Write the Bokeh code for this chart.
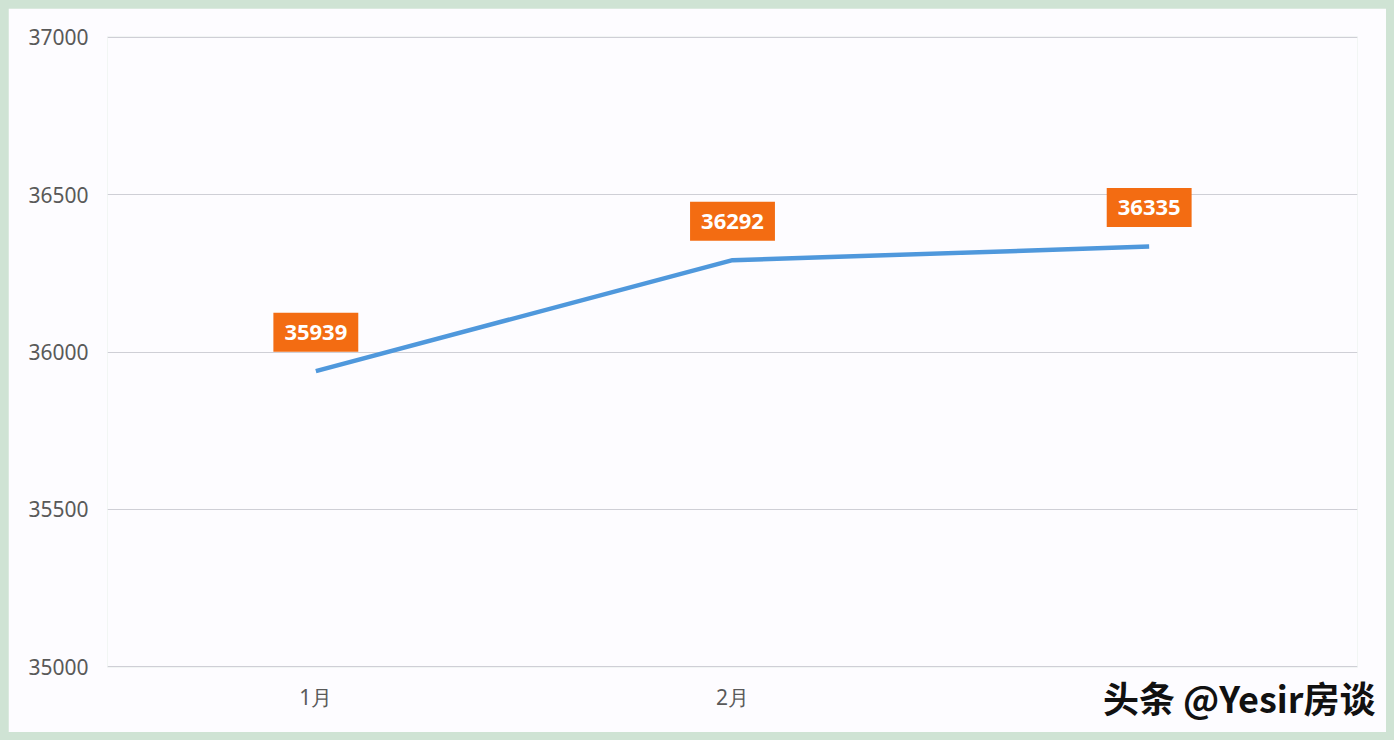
from bokeh.plotting import figure
from bokeh.models import ColumnDataSource, Title, Range1d, FixedTicker
from bokeh.core.properties import value
from bokeh.embed import file_html
from bokeh.resources import INLINE

months = ["1月", "2月", "3月"]
values = [35939, 36292, 36335]
value_labels = ["35939", "36292", "36335"]
y_ticks = [35000, 35500, 36000, 36500, 37000]
watermark = "头条 @Yesir房谈"

src = ColumnDataSource(dict(x=months, y=values, t=value_labels))

p = figure(x_range=months, y_range=Range1d(34997, 37003),
           width=1378, height=724, output_backend="svg", toolbar_location=None,
           min_border_left=99, min_border_right=29, min_border_top=28, min_border_bottom=65)
p.background_fill_color = "#fdfcff"
p.border_fill_color = "#fdfcff"
p.outline_line_color = None

p.line("x", "y", source=src, line_color="#4f98dc", line_width=4.5)

p.yaxis.ticker = FixedTicker(ticks=y_ticks)
for ax in (p.xaxis[0], p.yaxis[0]):
    ax.axis_line_color = None
    ax.major_tick_line_color = None
    ax.minor_tick_line_color = None
    ax.major_label_text_font = "Noto Sans"
    ax.major_label_text_font_size = "21px"
    ax.major_label_text_color = "#595959"
p.yaxis.major_label_standoff = 13
p.xaxis.major_label_standoff = -51
p.xgrid.grid_line_color = None
p.ygrid.grid_line_color = "#cfcfd6"
p.ygrid.grid_line_width = 1

p.text("x", "y", text="t", source=src, y_offset=-39,
       text_align="center", text_baseline="middle",
       text_color="white", text_font=value("Open Sans"), text_font_style="bold",
       text_font_size="22px",
       background_fill_color="#f36c12", padding=(11, 12))

wm = Title(text=watermark, align="right", vertical_align="top", text_font="Noto Sans CJK SC",
           text_font_size="36px", text_font_style="bold", text_color="#111111",
           background_fill_color="#fdfcff", standoff=6, offset=-18)
p.below = [wm] + list(p.below)

html = file_html(p, INLINE)
html = html.replace("<head>", "<head><style>html,body{background:#cfe3d4;} body{margin:8px !important;}</style>", 1)
open("out.html", "w").write(html)
